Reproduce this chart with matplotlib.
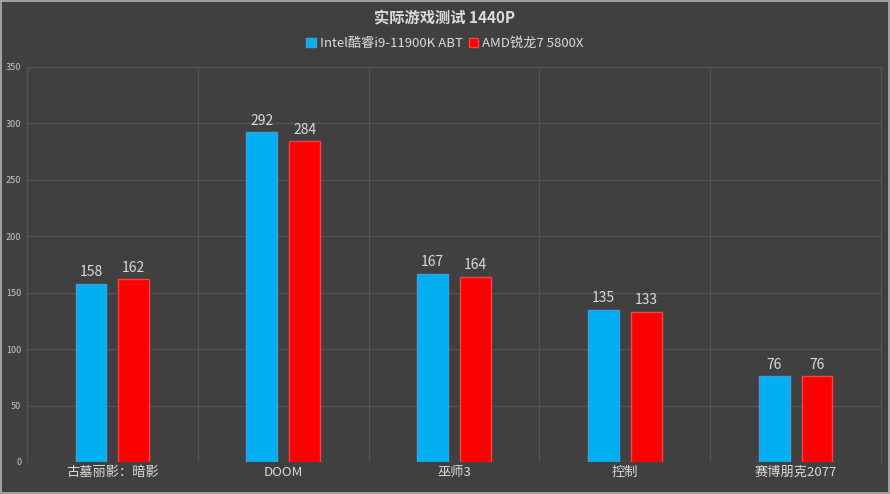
import matplotlib

matplotlib.use("Agg")
import matplotlib.pyplot as plt
import numpy as np

plt.rcParams["font.family"] = ["Noto Sans CJK SC", "DejaVu Sans"]

# --- datos ---
categorias = ["古墓丽影：暗影", "DOOM", "巫师3", "控制", "赛博朋克2077"]
intel = [158, 292, 167, 135, 76]
amd = [162, 284, 164, 133, 76]
series = ["Intel酷睿i9-11900K ABT", "AMD锐龙7 5800X"]
y_ticks = [0, 50, 100, 150, 200, 250, 300, 350]

BG = "#404040"
GRID = "#545454"
TXT = "#dcdcdc"

fig = plt.figure(figsize=(8.9, 4.94), dpi=100, facecolor=BG)
fig.patch.set_edgecolor("#a0a0a0")
fig.patch.set_linewidth(1.5)
ax = fig.add_axes([0.0303, 0.0648, 0.9597, 0.7996], facecolor=BG)

x = np.arange(len(categorias))
w = 0.18
b1 = ax.bar(x - 0.125, intel, w, color="#00B0F0", edgecolor="#3aa0e0", linewidth=1.0,
            label=series[0], zorder=3)
b2 = ax.bar(x + 0.125, amd, w, color="#FF0000", edgecolor="#ff4040", linewidth=1.0,
            label=series[1], zorder=3)

for bars in (b1, b2):
    for r in bars:
        ax.text(r.get_x() + r.get_width() / 2, r.get_height() + 4, f"{int(r.get_height())}",
                ha="center", va="bottom", color=TXT, fontsize=10, fontweight="medium")

ax.set_xlim(-0.5, len(categorias) - 0.5)
ax.set_ylim(0, 350)
ax.set_yticks(y_ticks)
ax.set_yticklabels([str(v) for v in y_ticks], fontsize=6.5, color="#c8c8c8")
ax.set_xticks(x)
ax.set_xticklabels(categorias, fontsize=9.5, color=TXT, fontweight="medium")
ax.set_xticks(np.arange(len(categorias) + 1) - 0.5, minor=True)
ax.tick_params(axis="both", which="both", length=0)
ax.tick_params(axis="y", pad=4)
ax.tick_params(axis="x", pad=3)

ax.grid(axis="y", color=GRID, linewidth=0.9, zorder=0)
ax.grid(axis="x", which="minor", color=GRID, linewidth=0.9, zorder=0)
ax.grid(axis="x", which="major", visible=False)
for s in ax.spines.values():
    s.set_color(GRID)
    s.set_linewidth(0.9)
ax.spines["bottom"].set_visible(False)

fig.text(0.5, 0.962, "实际游戏测试 1440P", ha="center", va="center",
         color=TXT, fontsize=11, fontweight="bold")
fig.legend(handles=[b1, b2], labels=series, loc="center", bbox_to_anchor=(0.5, 0.912),
           ncol=2, frameon=False, fontsize=9.5, labelcolor=TXT, handlelength=0.7,
           handleheight=0.7, handletextpad=0.3, columnspacing=0.5)

fig.savefig("out.png", dpi=100, facecolor=BG, edgecolor=fig.patch.get_edgecolor())
